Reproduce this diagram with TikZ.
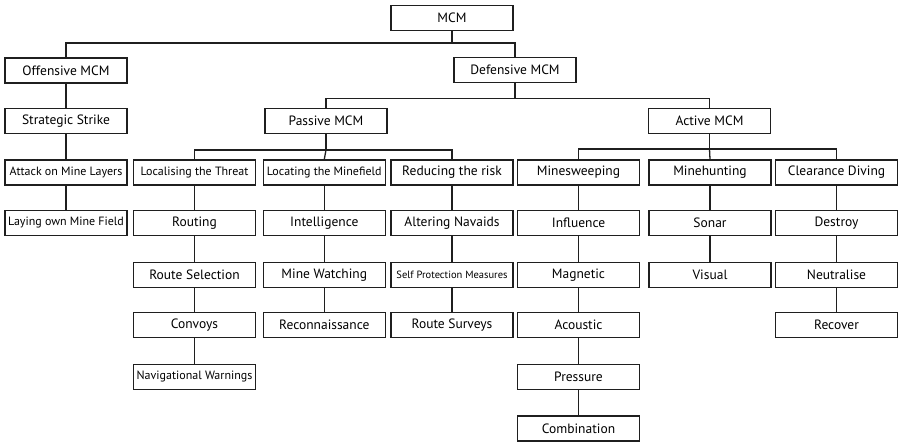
\documentclass[tikz,border=0pt]{standalone}
\usepackage{fontspec}
\setmainfont{PT Sans}
\begin{document}
\begin{tikzpicture}[x=1pt,y=-1pt,
  box/.style={draw=black!88, line width=1.5pt, minimum width=122pt, minimum height=25pt, inner sep=0pt, font=\fontsize{13.5}{14}\selectfont},
  sm/.style={font=\fontsize{12}{13}\selectfont},
  xs/.style={font=\fontsize{10.5}{12}\selectfont},
  link/.style={draw=black!88, line width=1.3pt}]
\useasboundingbox (0,0) rectangle (900,444);
% row 0-2
\node[box] (mcm) at (452,18) {MCM};
\node[box] (off) at (66,70.5) {Offensive MCM};
\node[box] (def) at (515,70) {Defensive MCM};
\node[box] (ss) at (66,121) {Strategic Strike};
\node[box] (pas) at (326,121) {Passive MCM};
\node[box] (act) at (709.5,121) {Active MCM};
% row 3
\node[box,sm] (aml) at (66,172.5) {Attack on Mine Layers};
\node[box,sm] (loc) at (194.5,172.5) {Localising the Threat};
\node[box,sm] (lmf) at (324.3,172.5) {Locating the Minefield};
\node[box] (red) at (452,172.5) {Reducing the risk};
\node[box] (msw) at (578.5,172.5) {Minesweeping};
\node[box] (mh) at (710,172.5) {Minehunting};
\node[box] (cd) at (836.5,172.5) {Clearance Diving};
% row 4
\node[box,sm] (lay) at (66,223) {Laying own Mine Field};
\node[box] (rout) at (194.5,223) {Routing};
\node[box] (int) at (324.3,223) {Intelligence};
\node[box] (alt) at (452,223) {Altering Navaids};
\node[box] (inf) at (578.5,223) {Influence};
\node[box] (son) at (710,223) {Sonar};
\node[box] (des) at (836.5,223) {Destroy};
% row 5
\node[box] (rs) at (194.5,275) {Route Selection};
\node[box] (mw) at (324.3,275) {Mine Watching};
\node[box,xs] (spm) at (452,275) {Self Protection Measures};
\node[box] (mag) at (578.5,275) {Magnetic};
\node[box] (vis) at (710,275) {Visual};
\node[box] (neu) at (836.5,275) {Neutralise};
% row 6
\node[box] (con) at (194.5,325) {Convoys};
\node[box] (rec) at (324.3,325) {Reconnaissance};
\node[box] (rsv) at (452,325) {Route Surveys};
\node[box] (aco) at (578.5,325) {Acoustic};
\node[box] (recov) at (836.5,325) {Recover};
% row 7-8
\node[box,sm] (nav) at (194.5,377) {Navigational Warnings};
\node[box] (pre) at (578.5,377) {Pressure};
\node[box] (comb) at (578.5,428.5) {Combination};
% buses
\coordinate (b0) at (0,43);
\coordinate (b1) at (0,98.5);
\coordinate (b2) at (0,150);
\coordinate (b3) at (0,149);
\draw[link] (mcm.south) -- (mcm.south |- b0) -| (off.north);
\draw[link] (mcm.south |- b0) -| (def.north);
\draw[link] (def.south) -- (def.south |- b1) -| (pas.north);
\draw[link] (def.south |- b1) -| (act.north);
\draw[link] (pas.south) -- (pas.south |- b2) -| (loc.north);
\draw[link] (pas.south |- b2) -| (red.north);
\draw[link] (pas.south |- b2) -- (lmf.north);
\draw[link] (act.south) -- (act.south |- b3) -| (msw.north);
\draw[link] (act.south |- b3) -| (cd.north);
\draw[link] (act.south |- b3) -- (mh.north);
% chains
\draw[link] (off) -- (ss);
\draw[link] (ss) -- (aml);
\draw[link] (aml) -- (lay);
\draw[link] (loc) -- (rout);
\draw[link] (rout) -- (rs);
\draw[link] (rs) -- (con);
\draw[link] (con) -- (nav);
\draw[link] (lmf) -- (int);
\draw[link] (int) -- (mw);
\draw[link] (mw) -- (rec);
\draw[link] (red) -- (alt);
\draw[link] (alt) -- (spm);
\draw[link] (spm) -- (rsv);
\draw[link] (msw) -- (inf);
\draw[link] (inf) -- (mag);
\draw[link] (mag) -- (aco);
\draw[link] (aco) -- (pre);
\draw[link] (pre) -- (comb);
\draw[link] (mh) -- (son);
\draw[link] (son) -- (vis);
\draw[link] (cd) -- (des);
\draw[link] (des) -- (neu);
\draw[link] (neu) -- (recov);
\end{tikzpicture}
\end{document}
